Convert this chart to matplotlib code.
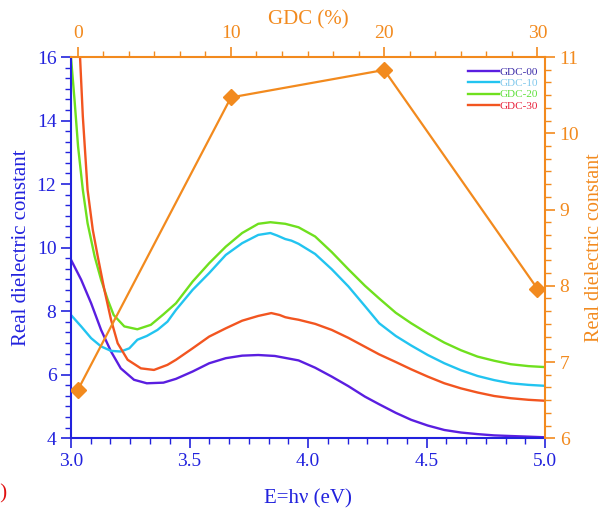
# Real dielectric constant vs photon energy for GDC films, with GDC (%) trend on twin axes
import matplotlib.pyplot as plt
from matplotlib.ticker import MultipleLocator, AutoMinorLocator

plt.rcParams['font.family'] = ['Liberation Serif', 'DejaVu Serif']

# spectra
e00 = [3.00, 3.043, 3.085, 3.127, 3.169, 3.21, 3.266, 3.32, 3.39, 3.443, 3.513, 3.583, 3.653, 3.722, 3.79, 3.86, 3.96,
       4.03, 4.10, 4.17, 4.24, 4.30, 4.37, 4.435, 4.505, 4.575, 4.645, 4.715, 4.785, 4.855, 4.93, 5.00]
eps00 = [9.62, 8.99, 8.25, 7.41, 6.73, 6.20, 5.84, 5.73, 5.75, 5.87, 6.10, 6.36, 6.52, 6.60, 6.62, 6.59, 6.45,
         6.22, 5.94, 5.64, 5.31, 5.07, 4.80, 4.58, 4.40, 4.26, 4.18, 4.13, 4.09, 4.07, 4.05, 4.03]

e10 = [3.00, 3.043, 3.085, 3.127, 3.169, 3.21, 3.246, 3.28, 3.32, 3.365, 3.407, 3.443, 3.513, 3.583, 3.653, 3.722,
       3.79, 3.841, 3.87, 3.904, 3.93, 3.96, 4.03, 4.10, 4.17, 4.24, 4.30, 4.37, 4.435, 4.505, 4.575, 4.645, 4.715,
       4.785, 4.855, 4.93, 5.00]
eps10 = [7.88, 7.52, 7.15, 6.89, 6.75, 6.73, 6.83, 7.10, 7.22, 7.41, 7.67, 8.04, 8.67, 9.20, 9.77, 10.14,
         10.40, 10.46, 10.38, 10.27, 10.22, 10.12, 9.80, 9.32, 8.78, 8.16, 7.62, 7.22, 6.92, 6.62, 6.36, 6.14, 5.96,
         5.83, 5.73, 5.68, 5.65]

e20 = [3.00, 3.015, 3.03, 3.05, 3.07, 3.10, 3.127, 3.155, 3.18, 3.225, 3.28, 3.337, 3.39, 3.443, 3.513, 3.583,
       3.653, 3.722, 3.79, 3.841, 3.904, 3.96, 4.03, 4.10, 4.17, 4.24, 4.30, 4.37, 4.435, 4.505, 4.575, 4.645, 4.715,
       4.785, 4.855, 4.93, 5.00]
eps20 = [16.00, 14.65, 13.18, 11.82, 10.77, 9.72, 8.99, 8.36, 7.88, 7.52, 7.43, 7.57, 7.90, 8.25, 8.93, 9.51,
         10.03, 10.46, 10.75, 10.80, 10.75, 10.64, 10.35, 9.86, 9.32, 8.80, 8.40, 7.95, 7.62, 7.30, 7.01, 6.77, 6.57,
         6.44, 6.33, 6.27, 6.24]

e30 = [3.037, 3.05, 3.07, 3.092, 3.113, 3.141, 3.169, 3.197, 3.239, 3.295, 3.35, 3.407, 3.443, 3.513, 3.583, 3.653,
       3.722, 3.79, 3.845, 3.88, 3.904, 3.93, 3.96, 4.03, 4.10, 4.17, 4.24, 4.30, 4.37, 4.435, 4.505, 4.575, 4.645,
       4.715, 4.785, 4.855, 4.93, 5.00]
eps30 = [16.20, 14.13, 11.82, 10.56, 9.72, 8.67, 7.73, 6.99, 6.47, 6.20, 6.15, 6.31, 6.47, 6.83, 7.20, 7.46,
         7.70, 7.85, 7.94, 7.88, 7.81, 7.77, 7.73, 7.60, 7.41, 7.16, 6.88, 6.64, 6.40, 6.17, 5.94, 5.73, 5.57,
         5.44, 5.33, 5.26, 5.21, 5.18]

gdc = [0, 10, 20, 30]
eps_gdc = [6.63, 10.47, 10.83, 7.96]

labels = ['GDC-00', 'GDC-10', 'GDC-20', 'GDC-30']
line_cols = ['#5a1ee0', '#22c4f0', '#6fe01e', '#f25520']
text_cols = ['#3a2aa8', '#80c8ec', '#5ee03a', '#e8203a']

blue = '#2222dd'
orange = '#f28a1e'

fig = plt.figure(figsize=(6.04, 5.09), dpi=100)
ax = fig.add_axes([0.1175, 0.139, 0.785, 0.749])

for e, v, c, lab in zip([e00, e10, e20, e30], [eps00, eps10, eps20, eps30], line_cols, labels):
    ax.plot(e, v, color=c, lw=1.7, label=lab, solid_joinstyle='round')

ax.set_xlim(3.0, 5.0)
ax.set_ylim(4, 16)
ax.xaxis.set_major_locator(MultipleLocator(0.5))
ax.xaxis.set_minor_locator(AutoMinorLocator(6))
ax.yaxis.set_major_locator(MultipleLocator(2))
ax.yaxis.set_minor_locator(AutoMinorLocator(6))
ax.xaxis.set_major_formatter(plt.FormatStrFormatter('%.1f'))
ax.tick_params(axis='both', which='major', direction='out', length=7, width=1.2,
               colors=blue, labelsize=14)
ax.tick_params(axis='both', which='minor', direction='out', length=4, width=1.0, colors=blue)
ax.spines['left'].set_color(blue)
ax.spines['bottom'].set_color(blue)
ax.spines['left'].set_linewidth(1.5)
ax.spines['bottom'].set_linewidth(1.5)
ax.spines['top'].set_visible(False)
ax.spines['right'].set_visible(False)
ax.set_xlabel('E=h\u03bd (eV)', color=blue, fontsize=15, labelpad=14)
ax.set_ylabel('Real dielectric constant', color=blue, fontsize=15, labelpad=4)

# right axis
ax_r = ax.twinx()
ax_r.set_ylim(6, 11)
ax_r.yaxis.set_major_locator(MultipleLocator(1))
ax_r.yaxis.set_minor_locator(AutoMinorLocator(6))
ax_r.tick_params(axis='y', which='major', direction='out', length=7, width=1.2,
                 colors=orange, labelsize=14)
ax_r.tick_params(axis='y', which='minor', direction='out', length=4, width=1.0, colors=orange)
for s in ['left', 'bottom', 'top']:
    ax_r.spines[s].set_visible(False)
ax_r.spines['right'].set_color(orange)
ax_r.spines['right'].set_linewidth(1.5)
ax_r.set_ylabel('Real dielectric constant', color=orange, fontsize=14.5, labelpad=4)

# top axis for GDC content
ax_t = ax_r.twiny()
ax_t.set_xlim(-0.44, 30.5)
ax_t.plot(gdc, eps_gdc, color=orange, lw=1.6, marker='D', markersize=8)
ax_t.xaxis.set_major_locator(MultipleLocator(10))
ax_t.xaxis.set_minor_locator(AutoMinorLocator(6))
ax_t.tick_params(axis='x', which='major', direction='out', length=7, width=1.2,
                 colors=orange, labelsize=14)
ax_t.tick_params(axis='x', which='minor', direction='out', length=4, width=1.0, colors=orange)
for s in ['left', 'bottom', 'right']:
    ax_t.spines[s].set_visible(False)
ax_t.spines['top'].set_color(orange)
ax_t.spines['top'].set_linewidth(1.5)
ax_t.set_xlabel('GDC (%)', color=orange, fontsize=15, labelpad=1)

h, l = ax.get_legend_handles_labels()
leg = ax_t.legend(h, l, loc='upper right', bbox_to_anchor=(1.0, 0.99), frameon=False,
                  fontsize=8, handlelength=2.8, handletextpad=0.1, labelspacing=0.12,
                  borderaxespad=0.2)
for t, c in zip(leg.get_texts(), text_cols):
    t.set_color(c)

# panel letter, clipped at the left edge as in the source figure
fig.text(0.012, 0.01, '(b)', color='#e01010', fontsize=15, ha='right', va='bottom')

fig.savefig('out.png', dpi=100)
